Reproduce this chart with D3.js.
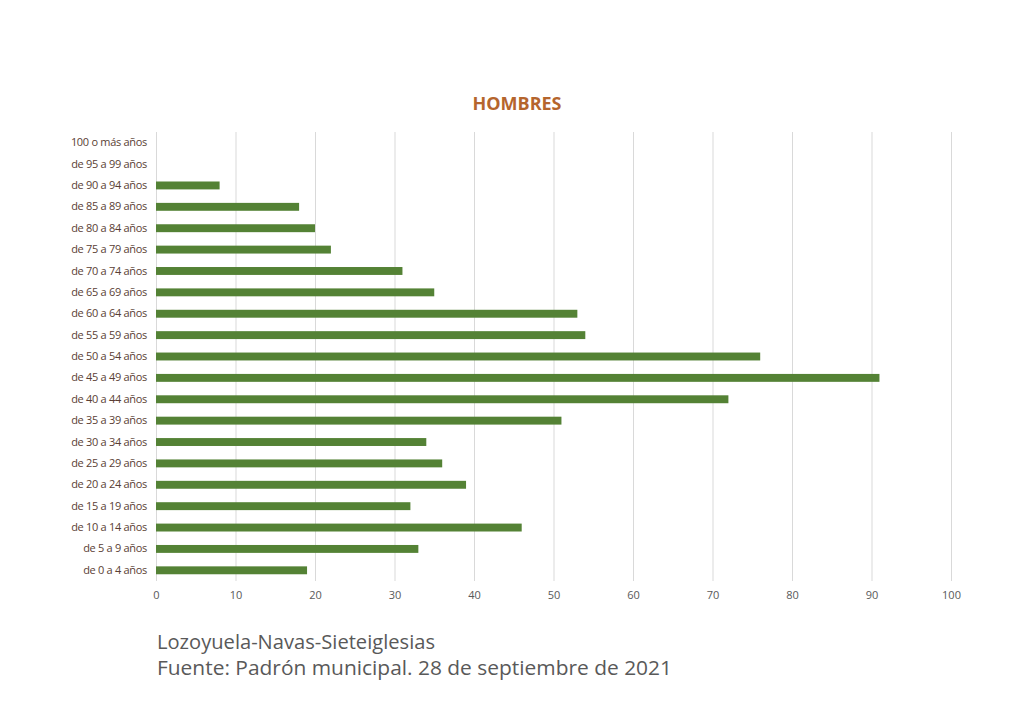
<!DOCTYPE html>
<html lang="es">
<head>
<meta charset="UTF-8">
<style>
  body { margin: 0; background: #fff; }
  svg { display: block; }
  .grid line { stroke: #d9d9d9; stroke-width: 1px; }
  .tick text { font-family: "Open Sans", sans-serif; }
</style>
</head>
<body>
<script src="https://cdn.jsdelivr.net/npm/d3@7"></script>
<script>
var categorias = ["de 0 a 4 años", "de 5 a 9 años", "de 10 a 14 años", "de 15 a 19 años",
  "de 20 a 24 años", "de 25 a 29 años", "de 30 a 34 años", "de 35 a 39 años",
  "de 40 a 44 años", "de 45 a 49 años", "de 50 a 54 años", "de 55 a 59 años",
  "de 60 a 64 años", "de 65 a 69 años", "de 70 a 74 años", "de 75 a 79 años",
  "de 80 a 84 años", "de 85 a 89 años", "de 90 a 94 años", "de 95 a 99 años",
  "100 o más años"];
var hombres = [19, 33, 46, 32, 39, 36, 34, 51, 72, 91, 76, 54, 53, 35, 31, 22, 20, 18, 8, 0, 0];
var ticksX = [0, 10, 20, 30, 40, 50, 60, 70, 80, 90, 100];
var titulo = "HOMBRES";
var notas = ["Lozoyuela-Navas-Sieteiglesias", "Fuente: Padrón municipal. 28 de septiembre de 2021"];

var width = 1020, height = 705
  ,mLeft = 156, mRight = 951, mTop = 132, mBottom = 581
  ,svg = d3.select('body').append('svg').attr('width', width).attr('height', height)
  ,x = d3.scaleLinear().domain([0, 100]).range([mLeft, mRight])
  ,y = d3.scaleBand().domain(categorias).range([mBottom, mTop]).paddingInner(0.63).paddingOuter(0.315);

// gridlines
svg.append('g').attr('class', 'grid')
  .selectAll('line').data(ticksX).enter().append('line')
    .attr('x1', function(d){ return x(d) + 0.5; })
    .attr('x2', function(d){ return x(d) + 0.5; })
    .attr('y1', mTop).attr('y2', mBottom);

// bars
svg.append('g').selectAll('rect').data(hombres).enter().append('rect')
  .attr('x', x(0))
  .attr('y', function(d, i){ return y(categorias[i]); })
  .attr('width', function(d){ return x(d) - x(0); })
  .attr('height', y.bandwidth())
  .attr('fill', '#548235');

// axes
var ax = svg.append('g').attr('transform', 'translate(0,' + mBottom + ')')
  .call(d3.axisBottom(x).tickValues(ticksX).tickSize(0).tickPadding(10));
ax.select('.domain').remove();
ax.selectAll('text').attr('fill', '#595959').style('font-size', '11px');

var ay = svg.append('g').attr('transform', 'translate(' + mLeft + ',0)')
  .call(d3.axisLeft(y).tickSize(0).tickPadding(9));
ay.select('.domain').remove();
ay.selectAll('text').attr('fill', '#5a3e34').style('font-size', '11px').style('letter-spacing', '-0.3px');

// title
svg.append('text')
  .attr('x', 517).attr('y', 110)
  .attr('text-anchor', 'middle')
  .attr('textLength', 89)
  .attr('lengthAdjust', 'spacingAndGlyphs')
  .style('font-family', '"Open Sans", sans-serif')
  .style('font-weight', 'bold')
  .style('font-size', '17px')
  .attr('fill', '#b5652d')
  .text(titulo);

// footnotes
svg.selectAll('.nota').data(notas).enter().append('text')
  .attr('class', 'nota')
  .attr('x', 157)
  .attr('y', function(d, i){ return 649 + i * 26; })
  .attr('textLength', function(d, i){ return i === 0 ? 278 : 515; })
  .attr('lengthAdjust', 'spacingAndGlyphs')
  .style('font-family', '"Open Sans", sans-serif')
  .style('font-size', '20px')
  .attr('fill', '#595959')
  .text(function(d){ return d; });
</script>
</body>
</html>
